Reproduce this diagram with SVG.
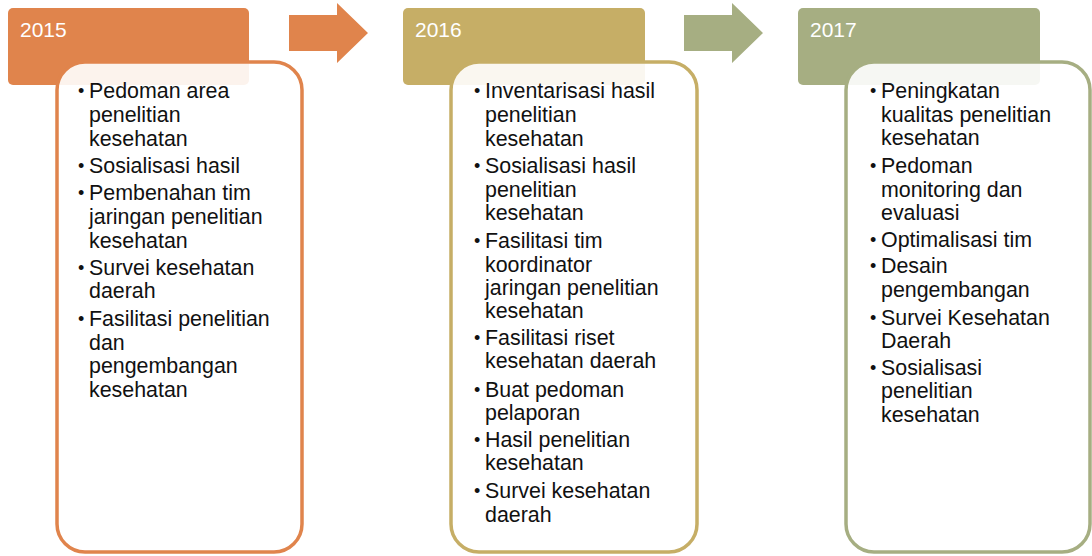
<svg xmlns="http://www.w3.org/2000/svg" width="1092" height="556" viewBox="0 0 1092 556">
<style>
.bg{fill:#fff}
.yr{font-family:"Liberation Sans",Arial,sans-serif;font-size:21px;fill:#fff}
.card{fill:#fff;fill-opacity:0.9;stroke-width:3.5}
.t{font-family:"Liberation Sans",Arial,sans-serif;font-size:21.4px;fill:#111}
.b{font-size:18px}
.o{fill:#E0844C}.os{stroke:#E0844C}
.g{fill:#C6AE66}.gs{stroke:#C6AE66}
.v{fill:#A6AE82}.vs{stroke:#A6AE82}
</style>
<rect class="bg" width="1092" height="556"/>
<g id="connectors">
<polygon class="o" points="289,15 337,15 337,3 368,33 337,63 337,51 289,51"/>
<polygon class="v" points="684,15 732,15 732,3 763,33 732,63 732,51 684,51"/>
</g>
<g id="node-2015">
<rect class="o" x="8" y="8" width="241" height="77" rx="5"/>
<text class="yr" x="20" y="37">2015</text>
<rect class="card os" x="57" y="62" width="245" height="490" rx="28"/>
<g class="t">
<text class="b" x="78" y="97">•</text>
<text x="89" y="98">Pedoman area</text>
<text x="89" y="122">penelitian</text>
<text x="89" y="146">kesehatan</text>
<text class="b" x="78" y="172">•</text>
<text x="89" y="173">Sosialisasi hasil</text>
<text class="b" x="78" y="199">•</text>
<text x="89" y="200">Pembenahan tim</text>
<text x="89" y="224">jaringan penelitian</text>
<text x="89" y="248">kesehatan</text>
<text class="b" x="78" y="274">•</text>
<text x="89" y="275">Survei kesehatan</text>
<text x="89" y="298">daerah</text>
<text class="b" x="78" y="325">•</text>
<text x="89" y="326">Fasilitasi penelitian</text>
<text x="89" y="350">dan</text>
<text x="89" y="373">pengembangan</text>
<text x="89" y="397">kesehatan</text>
</g>
</g>
<g id="node-2016">
<rect class="g" x="403" y="8" width="242" height="77" rx="5"/>
<text class="yr" x="415" y="37">2016</text>
<rect class="card gs" x="451" y="62" width="246" height="490" rx="28"/>
<g class="t">
<text class="b" x="474" y="97">•</text>
<text x="485" y="98">Inventarisasi hasil</text>
<text x="485" y="122">penelitian</text>
<text x="485" y="146">kesehatan</text>
<text class="b" x="474" y="172">•</text>
<text x="485" y="173">Sosialisasi hasil</text>
<text x="485" y="197">penelitian</text>
<text x="485" y="220">kesehatan</text>
<text class="b" x="474" y="247">•</text>
<text x="485" y="248">Fasilitasi tim</text>
<text x="485" y="272">koordinator</text>
<text x="485" y="295">jaringan penelitian</text>
<text x="485" y="318">kesehatan</text>
<text class="b" x="474" y="344">•</text>
<text x="485" y="345">Fasilitasi riset</text>
<text x="485" y="368">kesehatan daerah</text>
<text class="b" x="474" y="396">•</text>
<text x="485" y="397">Buat pedoman</text>
<text x="485" y="420">pelaporan</text>
<text class="b" x="474" y="446">•</text>
<text x="485" y="447">Hasil penelitian</text>
<text x="485" y="470">kesehatan</text>
<text class="b" x="474" y="497">•</text>
<text x="485" y="498">Survei kesehatan</text>
<text x="485" y="522">daerah</text>
</g>
</g>
<g id="node-2017">
<rect class="v" x="798" y="8" width="242" height="77" rx="5"/>
<text class="yr" x="810" y="37">2017</text>
<rect class="card vs" x="846" y="62" width="244" height="490" rx="28"/>
<g class="t">
<text class="b" x="870" y="97">•</text>
<text x="881" y="98">Peningkatan</text>
<text x="881" y="122">kualitas penelitian</text>
<text x="881" y="145">kesehatan</text>
<text class="b" x="870" y="172">•</text>
<text x="881" y="173">Pedoman</text>
<text x="881" y="197">monitoring dan</text>
<text x="881" y="220">evaluasi</text>
<text class="b" x="870" y="246">•</text>
<text x="881" y="247">Optimalisasi tim</text>
<text class="b" x="870" y="272">•</text>
<text x="881" y="273">Desain</text>
<text x="881" y="297">pengembangan</text>
<text class="b" x="870" y="324">•</text>
<text x="881" y="325">Survei Kesehatan</text>
<text x="881" y="348">Daerah</text>
<text class="b" x="870" y="374">•</text>
<text x="881" y="375">Sosialisasi</text>
<text x="881" y="398">penelitian</text>
<text x="881" y="422">kesehatan</text>
</g>
</g>
</svg>
